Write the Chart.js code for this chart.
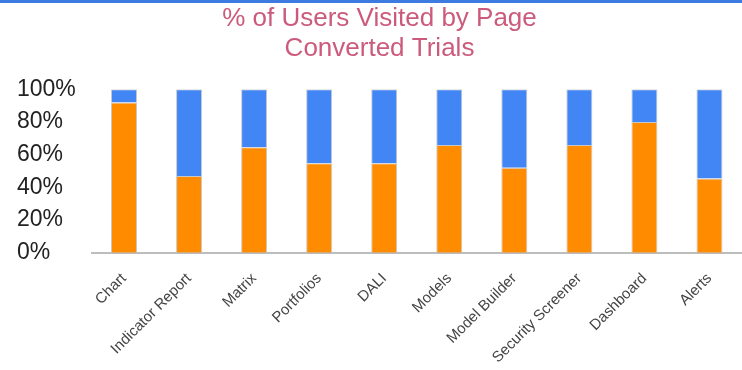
<!DOCTYPE html>
<html lang="en">
<head>
  <meta charset="UTF-8">
  <title>% of Users Visited by Page</title>
  <script src="https://cdn.jsdelivr.net/npm/chart.js"></script>
  <style>
    html, body {
      margin: 0;
      padding: 0;
      background: #fff;
    }
    #wrap {
      width: 742px;
      height: 370px;
    }
  </style>
</head>
<body>
  <div id="wrap"><canvas id="pageChart"></canvas></div>

  <script>
    const pages = ['Chart', 'Indicator Report', 'Matrix', 'Portfolios', 'DALI',
                   'Models', 'Model Builder', 'Security Screener', 'Dashboard', 'Alerts'];
    // share of visitors (percent) that converted vs. did not
    const converted    = [92, 47, 64.5, 54.7, 54.7, 66, 52, 66, 80, 45.5];
    const notConverted = [8, 53, 35.5, 45.3, 45.3, 34, 48, 34, 20, 54.5];
    const yTicks = [0, 20, 40, 60, 80, 100];

    const FONT = '"Liberation Sans", Arial, sans-serif';

    // thin blue rule across the top of the panel
    const topRule = {
      id: 'topRule',
      afterDraw(chart) {
        const ctx = chart.ctx;
        ctx.save();
        ctx.fillStyle = '#3d7be0';
        ctx.fillRect(0, 0, chart.width, 3);
        ctx.restore();
      }
    };

    window.addEventListener('DOMContentLoaded', () => {
      const ctx = document.getElementById('pageChart').getContext('2d');
      new Chart(ctx, {
        type: 'bar',
        data: {
          labels: pages,
          datasets: [
            {
              label: 'Converted',
              data: converted,
              backgroundColor: '#ff8b00',
              borderColor: '#c8c8c8',
              borderWidth: { top: 1, left: 1, right: 1, bottom: 0 },
              borderSkipped: false,
              barPercentage: 0.4,
              categoryPercentage: 1.0
            },
            {
              label: 'Not converted',
              data: notConverted,
              backgroundColor: '#4285f4',
              borderColor: '#c8c8c8',
              borderWidth: { top: 1, left: 1, right: 1, bottom: 0 },
              borderSkipped: false,
              barPercentage: 0.4,
              categoryPercentage: 1.0
            }
          ]
        },
        options: {
          responsive: true,
          maintainAspectRatio: false,
          animation: false,
          layout: {
            padding: { left: 17, right: 0, top: 0, bottom: 0 }
          },
          plugins: {
            legend: { display: false },
            tooltip: { enabled: false },
            title: {
              display: true,
              text: ['% of Users Visited by Page', 'Converted Trials'],
              color: '#cc5a7c',
              font: { family: FONT, size: 26, weight: 'normal', lineHeight: 1.18 },
              padding: { top: 3, bottom: 25 }
            }
          },
          scales: {
            x: {
              stacked: true,
              z: 1,
              grid: { display: false },
              border: { display: true, color: '#bdbdbd', width: 2 },
              ticks: {
                autoSkip: false,
                minRotation: 45,
                maxRotation: 45,
                padding: 9,
                color: '#444',
                font: { family: FONT, size: 15 }
              },
              afterFit(scale) {
                scale.height = 117.3;
              }
            },
            y: {
              stacked: true,
              min: 0,
              max: 100,
              grid: { display: false },
              border: { display: false },
              afterBuildTicks(scale) {
                scale.ticks = yTicks.map(v => ({ value: v }));
              },
              ticks: {
                crossAlign: 'far',
                color: '#222',
                font: { family: FONT, size: 23 },
                callback: v => v + '%'
              },
              afterFit(scale) {
                scale.width = 74.5;
              }
            }
          }
        },
        plugins: [topRule]
      });
    });
  </script>
</body>
</html>
